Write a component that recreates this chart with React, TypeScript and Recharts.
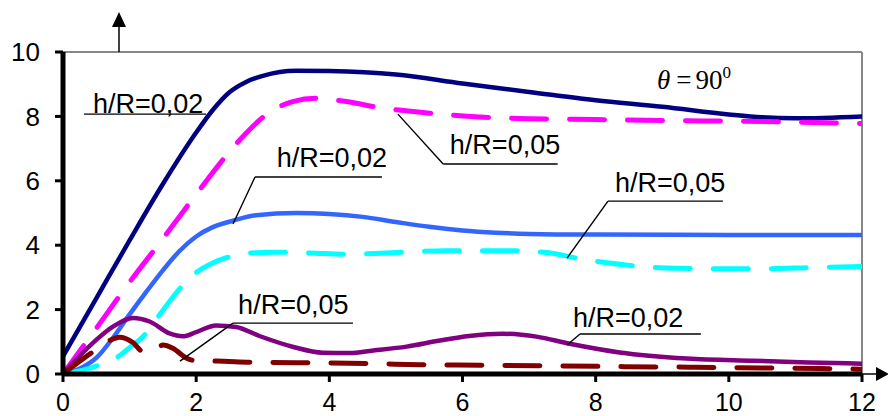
import React from 'react';
import { LineChart, Line, XAxis, YAxis, ReferenceLine, ReferenceDot } from 'recharts';

// [x, y] pairs
const upperSolid: [number, number][] = [
    [0, 0.55], [0.5, 2.35], [1.0, 4.15], [1.5, 5.9], [2.0, 7.5], [2.25, 8.2], [2.5, 8.75],
    [2.75, 9.07], [3.0, 9.26], [3.5, 9.42], [4.0, 9.41], [5.0, 9.3], [6.0, 9.02], [7.0, 8.76],
    [8.0, 8.5], [9.0, 8.3], [10.0, 8.06], [10.5, 7.97], [11.0, 7.94], [12, 8.0]
];
const upperDashed: [number, number][] = [
    [0, 0], [0.5, 1.42], [1.0, 2.85], [1.5, 4.2], [2.0, 5.58], [2.5, 6.9], [2.75, 7.48],
    [3.05, 8.05], [3.45, 8.46], [3.8, 8.56], [4.2, 8.48], [4.76, 8.27], [5.5, 8.1],
    [6.26, 7.98], [7.0, 7.93], [8.0, 7.9], [9.0, 7.87], [10.5, 7.84], [11.0, 7.82], [12, 7.78]
];
const middleSolid: [number, number][] = [
    [0, 0], [0.3, 0.22], [0.5, 0.5], [0.75, 1.12], [1.0, 1.85], [1.25, 2.55], [1.5, 3.22],
    [1.75, 3.82], [2.0, 4.27], [2.25, 4.56], [2.55, 4.76], [2.9, 4.93], [3.5, 5.0], [4.0, 4.97],
    [4.5, 4.88], [5.0, 4.72], [5.5, 4.57], [6.0, 4.46], [6.5, 4.39], [7.0, 4.35], [8.0, 4.33],
    [10.0, 4.32], [12, 4.32]
];
const middleDashed: [number, number][] = [
    [0, 0], [0.3, 0.12], [0.55, 0.28], [0.83, 0.54], [1.0, 0.82], [1.2, 1.16], [1.43, 1.78],
    [1.6, 2.25], [1.78, 2.71], [2.0, 3.15], [2.25, 3.45], [2.5, 3.64], [2.8, 3.76], [3.2, 3.78],
    [3.7, 3.76], [4.26, 3.72], [4.86, 3.76], [5.76, 3.83], [6.67, 3.83], [7.27, 3.77],
    [7.76, 3.58], [8.2, 3.45], [8.96, 3.3], [9.7, 3.27], [10.5, 3.27], [11.2, 3.3], [12, 3.34]
];
const lowerSolid: [number, number][] = [
    [0, 0], [0.5, 1.06], [0.75, 1.47], [1.05, 1.74], [1.3, 1.63], [1.6, 1.26], [1.8, 1.17],
    [2.0, 1.3], [2.3, 1.51], [2.6, 1.46], [2.95, 1.18], [3.46, 0.84], [3.9, 0.66], [4.3, 0.65],
    [4.66, 0.73], [5.16, 0.85], [5.66, 1.04], [6.1, 1.18], [6.6, 1.25], [7.11, 1.16],
    [7.61, 0.94], [8.36, 0.67], [9.37, 0.48], [10.37, 0.41], [11.2, 0.36], [12, 0.32]
];
const lowerDashed: [number, number][] = [
    [0, 0], [0.45, 0.69], [0.7, 1.04], [0.85, 1.14], [1.05, 0.98], [1.2, 0.7], [1.35, 0.72],
    [1.5, 0.9], [1.65, 0.8], [1.85, 0.5], [2.0, 0.41], [2.3, 0.4], [2.9, 0.36], [3.5, 0.35],
    [4.66, 0.32], [5.36, 0.29], [6.5, 0.27], [7.5, 0.25], [8.36, 0.23], [9.5, 0.21],
    [10.5, 0.19], [11.37, 0.17], [12, 0.15]
];

const xTicks = [0, 2, 4, 6, 8, 10, 12];
const yTicks = [0, 2, 4, 6, 8, 10];

// label text and where it sits (data coords, left end of baseline)
const labelTexts = ['h/R=0,02', 'h/R=0,05', 'h/R=0,02', 'h/R=0,05', 'h/R=0,05', 'h/R=0,02'];
const labelAnchors: [number, number][] = [
    [0.45, 8.1], [5.81, 6.83], [3.21, 6.43], [8.29, 5.65], [2.63, 1.86], [7.66, 1.46]
];
// leader lines: curve point -> elbow -> end of underline
const leaderPaths: [number, number][][] = [
    [[0.315, 8.07], [2.148, 8.07]],
    [[5.03, 8.07], [5.71, 6.52], [7.43, 6.52]],
    [[2.553, 4.66], [2.884, 6.12], [4.79, 6.12]],
    [[7.57, 3.6], [8.185, 5.37], [9.91, 5.37]],
    [[1.757, 0.4], [2.553, 1.58], [4.355, 1.58]],
    [[7.57, 0.9], [7.765, 1.24], [9.58, 1.24]]
];

const toPoints = (pairs: [number, number][]) => pairs.map(([x, y]) => ({ x, y }));

const series = [
    { name: 'upperSolid', data: upperSolid, color: '#000080', width: 4.5, dashed: false },
    { name: 'upperDashed', data: upperDashed, color: '#FF00FF', width: 5, dashed: true },
    { name: 'middleSolid', data: middleSolid, color: '#3366FF', width: 4.5, dashed: false },
    { name: 'middleDashed', data: middleDashed, color: '#00FFFF', width: 5, dashed: true },
    { name: 'lowerSolid', data: lowerSolid, color: '#800080', width: 4.5, dashed: false },
    { name: 'lowerDashed', data: lowerDashed, color: '#800000', width: 5, dashed: true }
];

const font = '"Liberation Sans", Arial, sans-serif';

const App: React.FC = () => {
    return (
        <div style={{
            position: 'absolute',
            left: 0,
            top: 0,
            width: 888,
            height: 416,
            background: '#fff'
        }}>
            <LineChart width={888} height={416} margin={{ top: 52, right: 26, bottom: 0, left: 0 }}>
                <XAxis
                    type="number"
                    dataKey="x"
                    domain={[0, 12]}
                    ticks={xTicks}
                    allowDataOverflow
                    height={42}
                    tickSize={8}
                    tickMargin={11}
                    axisLine={{ stroke: '#000', strokeWidth: 5 }}
                    tickLine={{ stroke: '#000', strokeWidth: 3 }}
                    tick={{ fontSize: 25, fill: '#000', fontFamily: font }}
                />
                <YAxis
                    type="number"
                    dataKey="y"
                    domain={[0, 10]}
                    ticks={yTicks}
                    allowDataOverflow
                    width={63}
                    tickSize={8}
                    tickMargin={15}
                    axisLine={{ stroke: '#000', strokeWidth: 5 }}
                    tickLine={{ stroke: '#000', strokeWidth: 3 }}
                    tick={{ fontSize: 26, fill: '#000', fontFamily: font }}
                />

                {/* gray frame top and right */}
                <ReferenceLine y={10} stroke="#888" strokeWidth={2} />
                <ReferenceLine x={12} stroke="#888" strokeWidth={2} />

                {series.map((s) => (
                    <Line
                        key={s.name}
                        data={toPoints(s.data)}
                        dataKey="y"
                        type="monotone"
                        stroke={s.color}
                        strokeWidth={s.width}
                        strokeDasharray={s.dashed ? '35 23' : undefined}
                        strokeLinecap="round"
                        dot={false}
                        activeDot={false}
                        isAnimationActive={false}
                    />
                ))}

                {/* leader lines */}
                {leaderPaths.flatMap((path, i) =>
                    path.slice(1).map((pt, j) => (
                        <ReferenceLine
                            key={`leader-${i}-${j}`}
                            segment={[{ x: path[j][0], y: path[j][1] }, { x: pt[0], y: pt[1] }]}
                            stroke="#000"
                            strokeWidth={1.4}
                            ifOverflow="visible"
                        />
                    ))
                )}

                {labelTexts.map((txt, i) => (
                    <ReferenceDot
                        key={`label-${i}`}
                        x={labelAnchors[i][0]}
                        y={labelAnchors[i][1]}
                        ifOverflow="visible"
                        shape={(p: any) => (
                            <text x={p.cx} y={p.cy} fontSize={27} fontFamily={font} fill="#000">
                                {txt}
                            </text>
                        )}
                    />
                ))}

                {/* theta = 90 deg */}
                <ReferenceDot
                    x={8.92}
                    y={8.85}
                    ifOverflow="visible"
                    shape={(p: any) => (
                        <text x={p.cx} y={p.cy} fontSize={27} fontFamily='"Liberation Serif", "Times New Roman", serif' fill="#000">
                            <tspan fontStyle="italic">θ</tspan>
                            <tspan dx={6}>=</tspan>
                            <tspan dx={4}>90</tspan>
                            <tspan dy={-11} fontSize={17}>0</tspan>
                        </text>
                    )}
                />

                {/* axis arrows */}
                <ReferenceDot
                    x={0.841}
                    y={10}
                    ifOverflow="visible"
                    shape={(p: any) => (
                        <g>
                            <line x1={p.cx} y1={p.cy} x2={p.cx} y2={p.cy - 26} stroke="#000" strokeWidth={1.5} />
                            <path d={`M${p.cx - 7},${p.cy - 25} L${p.cx + 7},${p.cy - 25} L${p.cx},${p.cy - 40} Z`} fill="#000" />
                        </g>
                    )}
                />
                <ReferenceDot
                    x={12}
                    y={0}
                    ifOverflow="visible"
                    shape={(p: any) => (
                        <g>
                            <line x1={p.cx} y1={p.cy} x2={p.cx + 16} y2={p.cy} stroke="#000" strokeWidth={1.5} />
                            <path d={`M${p.cx + 14},${p.cy - 7} L${p.cx + 14},${p.cy + 7} L${p.cx + 27},${p.cy} Z`} fill="#000" />
                        </g>
                    )}
                />
            </LineChart>
        </div>
    );
};

export default App;
